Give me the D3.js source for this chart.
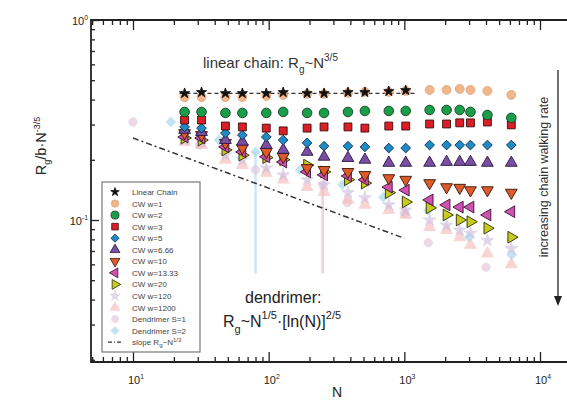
<!DOCTYPE html>
<html><head><meta charset="utf-8">
<script src="https://cdn.jsdelivr.net/npm/d3@7"></script>
<style>
body{margin:0;background:#fff}
svg{display:block}
text{font-family:"Liberation Sans",Arial,sans-serif}
</style>
</head><body>
<svg id="c" width="567" height="400"></svg>
<script>
// ---------- data ----------
const N = [24,32,48,64,96,128,192,256,384,512,768,1024,1536,2048,2560,3072,4096,6144];
const linearChain = [0.43,0.435,0.43,0.43,0.43,0.435,0.43,0.43,0.435,0.435,0.44,0.445];
const cw1    = [0.412,0.412,0.412,0.412,0.417,0.422,0.427,0.427,0.432,0.437,0.437,0.442,0.447,0.447,0.452,0.447,0.442,0.422];
const cw2    = [0.347,0.347,0.343,0.343,0.343,0.347,0.343,0.343,0.347,0.351,0.351,0.351,0.355,0.355,0.355,0.347,0.335,0.324];
const cw3    = [0.316,0.316,0.295,0.292,0.288,0.279,0.288,0.292,0.292,0.288,0.295,0.295,0.302,0.302,0.306,0.306,0.309,0.299];
const cw5    = [0.292,0.288,0.272,0.266,0.260,0.251,0.243,0.234,0.234,0.232,0.229,0.229,0.237,0.237,0.237,0.237,0.237,0.237];
const cw666  = [0.282,0.275,0.251,0.246,0.237,0.224,0.219,0.207,0.204,0.200,0.193,0.193,0.193,0.195,0.195,0.195,0.193,0.193];
const cw10   = [0.272,0.266,0.243,0.229,0.219,0.207,0.182,0.178,0.174,0.168,0.162,0.159,0.153,0.146,0.145,0.141,0.141,0.137];
const cw1333 = [0.260,0.257,0.232,0.219,0.207,0.195,0.174,0.168,0.166,0.159,0.146,0.141,0.126,0.119,0.116,0.116,0.106,0.110];
const cw20   = [0.257,0.251,0.224,0.211,0.205,0.200,0.188,0.174,0.159,0.153,0.137,0.123,0.115,0.106,0.100,0.098,0.091,0.082];
const cw120  = [0.251,0.246,0.211,0.200,0.182,0.168,0.159,0.150,0.137,0.129,0.119,0.112,0.100,0.094,0.089,0.086,0.079,0.072];
const cw1200 = [0.246,0.237,0.200,0.188,0.172,0.159,0.146,0.138,0.126,0.119,0.112,0.106,0.092,0.089,0.082,0.075,0.068,0.060];
const dendS1N = [10,31,80,250,380,1000,1500,4000];
const dendS1  = [0.309,0.237,0.178,0.150,0.122,0.108,0.077,0.058];
const dendS2N = [19,43,80,170,350,700,1500,3000,6200];
const dendS2  = [0.309,0.251,0.219,0.178,0.150,0.130,0.112,0.082,0.067];
const errBarN    = [80, 250];
const errBarHigh = [0.219, 0.150];
const errBarLow  = [0.054, 0.054];
const linearFitN = [22, 1200];
const linearFitV = [0.43, 0.43];
const slopeN = [10, 1000];
const slopeV = [0.257, 0.081];
const xMajor = [10,100,1000,10000];
const xExp = ["1","2","3","4"];
const yMajor = [0.1, 1];
const yExp = ["-1","0"];
const legendLabels = ["Linear Chain","CW w=1","CW w=2","CW w=3","CW w=5","CW w=6.66","CW w=10","CW w=13.33","CW w=20","CW w=120","CW w=1200","Dendrimer S=1","Dendrimer S=2"];

// ---------- setup ----------
const svg = d3.select("#c");
const x = d3.scaleLog().domain([10, 10000]).range([133, 540]);
const y = d3.scaleLog().domain([0.1, 1]).range([220, 20]);
const L = 91, T = 20, B = 362, R = 567;

const series = [
  {name:legendLabels[0], n:N, v:linearChain, sym:d3.symbolStar, rot:0, fill:"#111", stroke:"#111", size:32, op:1},
  {name:legendLabels[1], n:N, v:cw1, sym:d3.symbolCircle, rot:0, fill:"#efa56e", stroke:"#d89262", size:62, op:0.8},
  {name:legendLabels[2], n:N, v:cw2, sym:d3.symbolCircle, rot:0, fill:"#1a9e4a", stroke:"#123d22", size:72, op:1},
  {name:legendLabels[3], n:N, v:cw3, sym:d3.symbolSquare, rot:0, fill:"#dc1f26", stroke:"#3a0c0c", size:62, op:1},
  {name:legendLabels[4], n:N, v:cw5, sym:d3.symbolDiamond2, rot:0, fill:"#1f8ac6", stroke:"#0d2f4a", size:60, op:1},
  {name:legendLabels[5], n:N, v:cw666, sym:d3.symbolTriangle, rot:0, fill:"#7a4ea3", stroke:"#2a1840", size:60, op:1},
  {name:legendLabels[6], n:N, v:cw10, sym:d3.symbolTriangle, rot:180, fill:"#dd5a2a", stroke:"#3a1608", size:60, op:1},
  {name:legendLabels[7], n:N, v:cw1333, sym:d3.symbolTriangle, rot:-90, fill:"#d052b0", stroke:"#3a1030", size:60, op:1},
  {name:legendLabels[8], n:N, v:cw20, sym:d3.symbolTriangle, rot:90, fill:"#c5cc1f", stroke:"#2c2c06", size:60, op:1},
  {name:legendLabels[9], n:N, v:cw120, sym:d3.symbolStar, rot:0, fill:"#cbbcdd", stroke:"#cbbcdd", size:50, op:0.6},
  {name:legendLabels[10], n:N, v:cw1200, sym:d3.symbolTriangle, rot:0, fill:"#f6b8b6", stroke:"#f6b8b6", size:60, op:0.6},
  {name:legendLabels[11], n:dendS1N, v:dendS1, sym:d3.symbolCircle, rot:0, fill:"#e2c6d8", stroke:"#e2c6d8", size:55, op:0.65},
  {name:legendLabels[12], n:dendS2N, v:dendS2, sym:d3.symbolDiamond2, rot:0, fill:"#a8daee", stroke:"#a8daee", size:60, op:0.7}
];

// error bars (faint)
const errColors = ["#bfe3f0", "#eac9d6"];
svg.append("g").selectAll("line").data(errBarN).join("line")
  .attr("x1", d=>x(d)).attr("x2", d=>x(d))
  .attr("y1", (d,i)=>y(errBarHigh[i])).attr("y2", (d,i)=>y(errBarLow[i]))
  .attr("stroke", (d,i)=>errColors[i]).attr("stroke-width", 2.5).attr("opacity", 0.8);

// ---------- fit lines ----------
const line = d3.line().x(d=>x(d[0])).y(d=>y(d[1]));
svg.append("path").attr("d", line(linearFitN.map((n,i)=>[n, linearFitV[i]])))
  .attr("fill","none").attr("stroke","#333").attr("stroke-width",1.2).attr("stroke-dasharray","4,3");
svg.append("path").attr("d", line(slopeN.map((n,i)=>[n, slopeV[i]])))
  .attr("fill","none").attr("stroke","#333").attr("stroke-width",1.5).attr("stroke-dasharray","6,3,2,3");

// ---------- markers ----------
const order = [12,11,10,9,8,7,6,5,4,3,2,1,0];
order.forEach(si => {
  const s = series[si];
  const pts = s.n.slice(0, s.v.length).map((n,i)=>[n, s.v[i]]);
  svg.append("g").selectAll("path").data(pts).join("path")
    .attr("d", d3.symbol().type(s.sym).size(s.size))
    .attr("transform", d=>`translate(${x(d[0])},${y(d[1])}) rotate(${s.rot})`)
    .attr("fill", s.fill).attr("stroke", s.stroke).attr("stroke-width", 0.9)
    .attr("opacity", s.op);
});

// ---------- axes ----------
const minorX = [];
[1,10,100,1000].forEach(dec => { for (let k=2;k<=9;k++) { const v=dec*k; if (v>=5 && v<=20000) minorX.push(v); } });
const minorY = [];
[0.01,0.1].forEach(dec => { for (let k=2;k<=9;k++) { const v=dec*k; if (v>=0.0196 && v<1) minorY.push(v); } });

function axisG(axis) { return g => { g.call(axis); g.select(".domain").remove(); g.selectAll("text").remove(); g.selectAll("line").attr("stroke","#222").attr("stroke-width",1.3); }; }
svg.append("g").attr("transform",`translate(0,${B})`).call(axisG(d3.axisBottom(x).tickValues(minorX).tickSize(-5)));
svg.append("g").attr("transform",`translate(0,${B})`).call(axisG(d3.axisBottom(x).tickValues(xMajor).tickSize(-10)));
svg.append("g").attr("transform",`translate(0,${T})`).call(axisG(d3.axisTop(x).tickValues(minorX).tickSize(-5)));
svg.append("g").attr("transform",`translate(0,${T})`).call(axisG(d3.axisTop(x).tickValues(xMajor).tickSize(-10)));
svg.append("g").attr("transform",`translate(${L},0)`).call(axisG(d3.axisLeft(y).tickValues(minorY).tickSize(-4)));
svg.append("g").attr("transform",`translate(${L},0)`).call(axisG(d3.axisLeft(y).tickValues(yMajor).tickSize(-8)));

// frame
svg.append("path").attr("d",`M${R},${T}H${L}V${B}H${R}`).attr("fill","none").attr("stroke","#222").attr("stroke-width",1.8);

// tick labels
function supText(g, xx, yy, base, exp, size, anchor) {
  const t = g.append("text").attr("x", xx).attr("y", yy).attr("font-size", size).attr("fill","#222").attr("text-anchor", anchor);
  t.append("tspan").text(base);
  t.append("tspan").attr("dy", -size*0.45).attr("font-size", size*0.62).text(exp);
  return t;
}
xMajor.forEach((v,i)=> supText(svg, x(v)+3, 384, "10", xExp[i], 11, "middle"));
yMajor.forEach((v,i)=> supText(svg, 88, y(v)+5, "10", yExp[i], 11, "end"));

// axis titles
svg.append("text").attr("x", 337).attr("y", 397).attr("font-size", 14).attr("text-anchor","middle").attr("fill","#222").text("N");
const yl = svg.append("text").attr("transform","translate(46,146) rotate(-90)").attr("text-anchor","middle").attr("font-size",14.5).attr("fill","#222");
yl.append("tspan").text("R");
yl.append("tspan").attr("dy",4).attr("font-size",9).text("g");
yl.append("tspan").attr("dy",-4).text("/b·N");
yl.append("tspan").attr("dy",-6).attr("font-size",9).text("-3/5");

// annotations
const a1 = svg.append("text").attr("x",203).attr("y",68).attr("font-size",15).attr("fill","#333");
a1.append("tspan").text("linear chain: R");
a1.append("tspan").attr("dy",5).attr("font-size",10).text("g");
a1.append("tspan").attr("dy",-5).text("~N");
a1.append("tspan").attr("dy",-7).attr("font-size",10).text("3/5");

svg.append("text").attr("x",245).attr("y",303).attr("font-size",16).attr("fill","#222").text("dendrimer:");
const a2 = svg.append("text").attr("x",223).attr("y",327).attr("font-size",16).attr("fill","#222");
a2.append("tspan").text("R");
a2.append("tspan").attr("dy",6).attr("font-size",11).text("g");
a2.append("tspan").attr("dy",-6).text("~N");
a2.append("tspan").attr("dy",-8).attr("font-size",11).text("1/5");
a2.append("tspan").attr("dy",8).text("·[ln(N)]");
a2.append("tspan").attr("dy",-8).attr("font-size",11).text("2/5");

// walking-rate arrow
svg.append("text").attr("transform","translate(548,177) rotate(-90)").attr("text-anchor","middle").attr("font-size",12.5).attr("fill","#333").text("increasing chain walking rate");
svg.append("line").attr("x1",558).attr("x2",558).attr("y1",70).attr("y2",300).attr("stroke","#222").attr("stroke-width",1.3);
svg.append("path").attr("d","M554,296L558,306L562,296Z").attr("fill","#222");

// ---------- legend ----------
const lg = svg.append("g");
lg.append("rect").attr("x",102).attr("y",182).attr("width",98).attr("height",170).attr("fill","#fff").attr("fill-opacity",0.9).attr("stroke","#777").attr("stroke-width",1.2);
const ly0 = 192, lstep = 11.55;
series.forEach((s,i)=>{
  const yy = ly0 + i*lstep;
  lg.append("path").attr("d", d3.symbol().type(s.sym).size(s.size*0.7)())
    .attr("transform",`translate(115,${yy}) rotate(${s.rot})`)
    .attr("fill", s.fill).attr("stroke", s.stroke).attr("stroke-width",0.8).attr("opacity", s.op);
  lg.append("text").attr("x",132).attr("y",yy+3).attr("font-size",8).attr("fill","#444").text(s.name);
});
const ys = ly0 + 13*lstep;
lg.append("line").attr("x1",108).attr("x2",123).attr("y1",ys).attr("y2",ys).attr("stroke","#333").attr("stroke-width",1.3).attr("stroke-dasharray","4,2,1,2");
const lt = lg.append("text").attr("x",132).attr("y",ys+3).attr("font-size",8).attr("fill","#444");
lt.append("tspan").text("slope R");
lt.append("tspan").attr("dy",2).attr("font-size",6).text("g");
lt.append("tspan").attr("dy",-2).text("~N");
lt.append("tspan").attr("dy",-3).attr("font-size",6).text("1/3");
</script>
</body></html>
